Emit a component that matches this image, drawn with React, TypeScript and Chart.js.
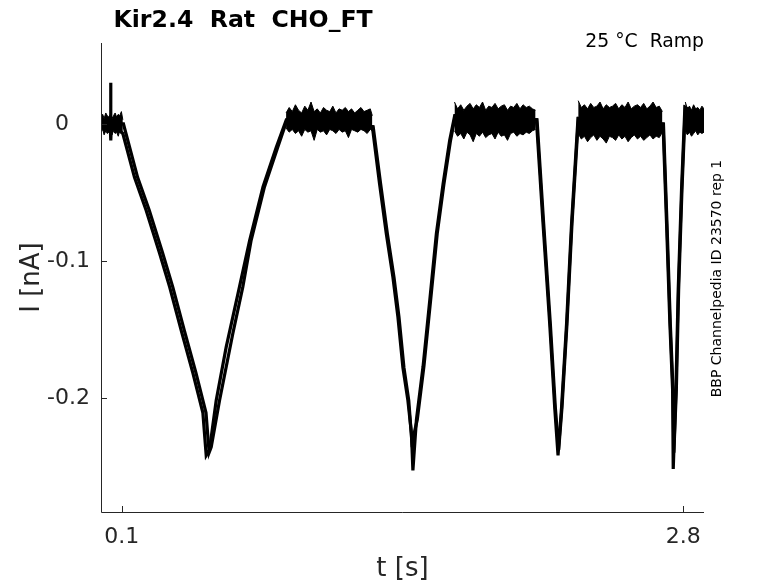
import React, { useEffect, useRef } from "react";
import { Chart, registerables } from "chart.js";

Chart.register(...registerables);

// ---------- data ----------
const xRange = [0, 2.9];
const yRange = [-0.2834, 0.0591];
const xTicks = [0.1, 2.8];
const xTickLabels = ["0.1", "2.8"];
const yTicks = [0, -0.1, -0.2];
const yTickLabels = ["0", "-0.1", "-0.2"];

const titleText = "Kir2.4  Rat  CHO_FT";
const conditionText = "25 °C  Ramp";
const sideText = "BBP Channelpedia ID 23570 rep 1";
const xLabel = "t [s]";
const yLabel = "I [nA]";

// repetition A (s, nA)
const repATime = [0, 0.044, 0.046, 0.048, 0.05, 0.105, 0.161, 0.217, 0.281, 0.33, 0.386, 0.442, 0.49, 0.506, 0.522, 0.554, 0.602, 0.666, 0.715, 0.779, 0.843, 0.891, 1.305, 1.34, 1.372, 1.404, 1.428, 1.452, 1.476, 1.493, 1.5, 1.517, 1.549, 1.581, 1.613, 1.645, 1.677, 1.701, 2.094, 2.126, 2.158, 2.182, 2.198, 2.215, 2.239, 2.263, 2.294, 2.703, 2.72, 2.736, 2.749, 2.752, 2.765, 2.776, 2.792, 2.808, 2.9];
const repACurrent = [0, 0, 0.03, -0.012, 0, -0.007, -0.039, -0.063, -0.094, -0.119, -0.151, -0.182, -0.211, -0.242, -0.238, -0.202, -0.163, -0.119, -0.085, -0.046, -0.017, 0.003, -0.002, -0.044, -0.08, -0.112, -0.141, -0.178, -0.202, -0.226, -0.253, -0.216, -0.177, -0.129, -0.08, -0.044, -0.012, 0.006, 0.003, -0.073, -0.146, -0.207, -0.242, -0.207, -0.146, -0.073, 0.004, 0, -0.073, -0.146, -0.194, -0.252, -0.194, -0.121, -0.048, 0.012, 0.003];

// repetition B (s, nA)
const repBTime = [0, 0.108, 0.12, 0.176, 0.232, 0.296, 0.345, 0.401, 0.457, 0.505, 0.52, 0.53, 0.57, 0.634, 0.682, 0.722, 0.786, 0.85, 0.895, 1.309, 1.345, 1.377, 1.409, 1.433, 1.457, 1.48, 1.497, 1.503, 1.521, 1.553, 1.585, 1.617, 1.649, 1.681, 1.704, 2.097, 2.129, 2.161, 2.185, 2.201, 2.217, 2.241, 2.265, 2.296, 2.705, 2.722, 2.738, 2.751, 2.755, 2.767, 2.778, 2.794, 2.81, 2.9];
const repBCurrent = [0, 0, -0.007, -0.039, -0.063, -0.094, -0.119, -0.151, -0.182, -0.211, -0.24, -0.236, -0.202, -0.153, -0.119, -0.085, -0.046, -0.017, 0.003, -0.002, -0.044, -0.08, -0.112, -0.141, -0.178, -0.202, -0.236, -0.228, -0.216, -0.177, -0.129, -0.08, -0.044, -0.012, 0.006, 0.003, -0.073, -0.146, -0.207, -0.238, -0.207, -0.146, -0.073, 0.004, 0, -0.073, -0.146, -0.194, -0.24, -0.194, -0.121, -0.048, 0.012, 0.003];

// noise envelopes of the flat (zero-current) segments
const flat1Time = [0, 0.008, 0.015, 0.023, 0.03, 0.038, 0.045, 0.053, 0.06, 0.068, 0.075, 0.083, 0.09, 0.098, 0.105];
const flat1Upper = [0.005, 0.007, 0.004, 0.008, 0.006, 0.005, 0.007, 0.004, 0.006, 0.008, 0.005, 0.007, 0.006, 0.009, 0.003];
const flat1Lower = [-0.006, -0.004, -0.008, -0.005, -0.007, -0.006, -0.004, -0.008, -0.005, -0.007, -0.006, -0.009, -0.005, -0.007, -0.008];

const flat2Time = [0.89, 0.905, 0.92, 0.935, 0.95, 0.965, 0.98, 0.995, 1.01, 1.025, 1.04, 1.055, 1.07, 1.085, 1.1, 1.115, 1.13, 1.145, 1.16, 1.175, 1.19, 1.205, 1.22, 1.235, 1.25, 1.265, 1.28, 1.295, 1.305];
const flat2Upper = [0.008, 0.012, 0.009, 0.014, 0.01, 0.008, 0.013, 0.01, 0.016, 0.009, 0.011, 0.008, 0.012, 0.01, 0.009, 0.013, 0.008, 0.011, 0.01, 0.012, 0.009, 0.011, 0.008, 0.01, 0.012, 0.009, 0.01, 0.011, 0.006];
const flat2Lower = [-0.003, -0.006, -0.004, -0.007, -0.005, -0.009, -0.004, -0.006, -0.005, -0.012, -0.004, -0.006, -0.005, -0.008, -0.004, -0.005, -0.007, -0.004, -0.006, -0.005, -0.01, -0.004, -0.005, -0.006, -0.004, -0.005, -0.007, -0.004, -0.005];

const flat3Time = [1.7, 1.715, 1.73, 1.745, 1.76, 1.775, 1.79, 1.805, 1.82, 1.835, 1.85, 1.865, 1.88, 1.895, 1.91, 1.925, 1.94, 1.955, 1.97, 1.985, 2.0, 2.015, 2.03, 2.045, 2.06, 2.075, 2.09];
const flat3Upper = [0.016, 0.011, 0.014, 0.01, 0.013, 0.015, 0.011, 0.014, 0.012, 0.016, 0.01, 0.013, 0.012, 0.015, 0.011, 0.013, 0.014, 0.01, 0.013, 0.012, 0.015, 0.011, 0.014, 0.012, 0.013, 0.011, 0.01];
const flat3Lower = [-0.005, -0.009, -0.007, -0.011, -0.006, -0.008, -0.013, -0.007, -0.009, -0.006, -0.01, -0.008, -0.007, -0.011, -0.006, -0.009, -0.008, -0.012, -0.007, -0.006, -0.009, -0.007, -0.008, -0.006, -0.007, -0.005, -0.004];

const flat4Time = [2.295, 2.31, 2.325, 2.34, 2.355, 2.37, 2.385, 2.4, 2.415, 2.43, 2.445, 2.46, 2.475, 2.49, 2.505, 2.52, 2.535, 2.55, 2.565, 2.58, 2.595, 2.61, 2.625, 2.64, 2.655, 2.67, 2.685, 2.7];
const flat4Upper = [0.017, 0.012, 0.014, 0.011, 0.015, 0.012, 0.013, 0.016, 0.011, 0.014, 0.012, 0.013, 0.015, 0.011, 0.014, 0.012, 0.016, 0.011, 0.013, 0.014, 0.012, 0.015, 0.011, 0.013, 0.016, 0.012, 0.013, 0.009];
const flat4Lower = [-0.007, -0.011, -0.009, -0.013, -0.01, -0.008, -0.012, -0.009, -0.011, -0.014, -0.009, -0.01, -0.012, -0.008, -0.011, -0.009, -0.013, -0.01, -0.008, -0.011, -0.009, -0.012, -0.01, -0.008, -0.011, -0.009, -0.01, -0.006];

const flat5Time = [2.81, 2.82, 2.83, 2.84, 2.85, 2.86, 2.87, 2.88, 2.89, 2.9];
const flat5Upper = [0.016, 0.011, 0.013, 0.01, 0.014, 0.011, 0.012, 0.01, 0.013, 0.011];
const flat5Lower = [-0.005, -0.008, -0.006, -0.009, -0.007, -0.005, -0.008, -0.006, -0.007, -0.006];

// ---------- helpers ----------
const FONT = '"DejaVu Sans", "Liberation Sans", sans-serif';
const AXIS_COLOR = "#262626";

const toPoints = (xs: number[], ys: number[]) => xs.map((x, i) => ({ x, y: ys[i] }));

const traceDataset = (xs: number[], ys: number[]) => ({
  data: toPoints(xs, ys),
  showLine: true,
  borderColor: "#000",
  borderWidth: 3.2,
  pointRadius: 0,
  fill: false,
  tension: 0,
});

const envelopeDatasets = (xs: number[], lower: number[], upper: number[]) => [
  {
    data: toPoints(xs, lower),
    showLine: true,
    borderColor: "#000",
    borderWidth: 1,
    pointRadius: 0,
    fill: false,
  },
  {
    data: toPoints(xs, upper),
    showLine: true,
    borderColor: "#000",
    borderWidth: 1,
    backgroundColor: "#000",
    pointRadius: 0,
    fill: "-1",
  },
];

const decorPlugin = {
  id: "matlabDecor",
  afterDraw(chart: any) {
    const { ctx, scales } = chart;
    const xs = scales.x;
    const ys = scales.y;
    const left = xs.getPixelForValue(xRange[0]);
    const right = xs.getPixelForValue(xRange[1]);
    const top = ys.getPixelForValue(yRange[1]);
    const bottom = ys.getPixelForValue(yRange[0]);
    ctx.save();
    // axis lines
    ctx.strokeStyle = AXIS_COLOR;
    ctx.lineWidth = 1;
    ctx.beginPath();
    ctx.moveTo(Math.round(left) + 0.5, top);
    ctx.lineTo(Math.round(left) + 0.5, Math.round(bottom) + 0.5);
    ctx.lineTo(right, Math.round(bottom) + 0.5);
    // tick marks (inside)
    xTicks.forEach((v) => {
      const px = Math.round(xs.getPixelForValue(v)) + 0.5;
      ctx.moveTo(px, bottom);
      ctx.lineTo(px, bottom - 6);
    });
    yTicks.forEach((v) => {
      const py = Math.round(ys.getPixelForValue(v)) + 0.5;
      ctx.moveTo(left, py);
      ctx.lineTo(left + 6, py);
    });
    ctx.stroke();

    // tick labels
    ctx.fillStyle = AXIS_COLOR;
    ctx.font = `22px ${FONT}`;
    ctx.textAlign = "center";
    ctx.textBaseline = "alphabetic";
    xTicks.forEach((v, i) => {
      ctx.fillText(xTickLabels[i], xs.getPixelForValue(v), bottom + 31);
    });
    // y labels aligned on the decimal point
    ctx.textAlign = "left";
    ctx.textBaseline = "middle";
    const decimalX = left - 32;
    yTicks.forEach((v, i) => {
      const s = yTickLabels[i];
      const intPart = s.split(".")[0];
      const w = ctx.measureText(intPart).width;
      ctx.fillText(s, decimalX - w, ys.getPixelForValue(v));
    });

    // axis titles
    ctx.font = `26px ${FONT}`;
    ctx.textAlign = "center";
    ctx.textBaseline = "alphabetic";
    ctx.fillText(xLabel, (left + right) / 2, bottom + 64);
    ctx.save();
    ctx.translate(left - 62, (top + bottom) / 2);
    ctx.rotate(-Math.PI / 2);
    ctx.fillText(yLabel, 0, 0);
    ctx.restore();

    // title
    ctx.fillStyle = "#000";
    ctx.font = `bold 23.6px ${FONT}`;
    ctx.textAlign = "left";
    ctx.fillText(titleText, left + 12.5, 26.5);

    // condition text
    ctx.font = `18.8px ${FONT}`;
    ctx.textAlign = "right";
    ctx.fillText(conditionText, right, 47);

    // side text
    ctx.font = `14px ${FONT}`;
    ctx.textAlign = "center";
    ctx.save();
    ctx.translate(right + 17, (top + bottom) / 2 + 1);
    ctx.rotate(-Math.PI / 2);
    ctx.fillText(sideText, 0, 0);
    ctx.restore();

    ctx.restore();
  },
};

export default function App() {
  const canvasRef = useRef<HTMLCanvasElement | null>(null);

  useEffect(() => {
    document.body.style.margin = "0";
    const canvas = canvasRef.current;
    if (!canvas) return;

    const datasets: any[] = [
      ...envelopeDatasets(flat1Time, flat1Lower, flat1Upper),
      ...envelopeDatasets(flat2Time, flat2Lower, flat2Upper),
      ...envelopeDatasets(flat3Time, flat3Lower, flat3Upper),
      ...envelopeDatasets(flat4Time, flat4Lower, flat4Upper),
      ...envelopeDatasets(flat5Time, flat5Lower, flat5Upper),
      traceDataset(repBTime, repBCurrent),
      traceDataset(repATime, repACurrent),
    ];

    const chart = new Chart(canvas, {
      type: "scatter",
      data: { datasets },
      plugins: [decorPlugin],
      options: {
        animation: false,
        responsive: false,
        maintainAspectRatio: false,
        layout: { padding: { top: 43, right: 74, left: 0, bottom: 0 } },
        plugins: {
          legend: { display: false },
          tooltip: { enabled: false },
          title: { display: false },
        },
        scales: {
          x: {
            type: "linear",
            min: xRange[0],
            max: xRange[1],
            grid: { display: false, drawTicks: false },
            border: { display: false },
            ticks: { display: false },
            afterFit: (s: any) => {
              s.height = 71;
            },
          },
          y: {
            type: "linear",
            min: yRange[0],
            max: yRange[1],
            grid: { display: false, drawTicks: false },
            border: { display: false },
            ticks: { display: false },
            afterFit: (s: any) => {
              s.width = 101;
            },
          },
        },
      },
    });

    return () => chart.destroy();
  }, []);

  return (
    <div style={{ position: "absolute", left: 0, top: 0, width: 778, height: 583, background: "#fff" }}>
      <canvas ref={canvasRef} width={778} height={583} style={{ width: 778, height: 583 }} />
    </div>
  );
}
